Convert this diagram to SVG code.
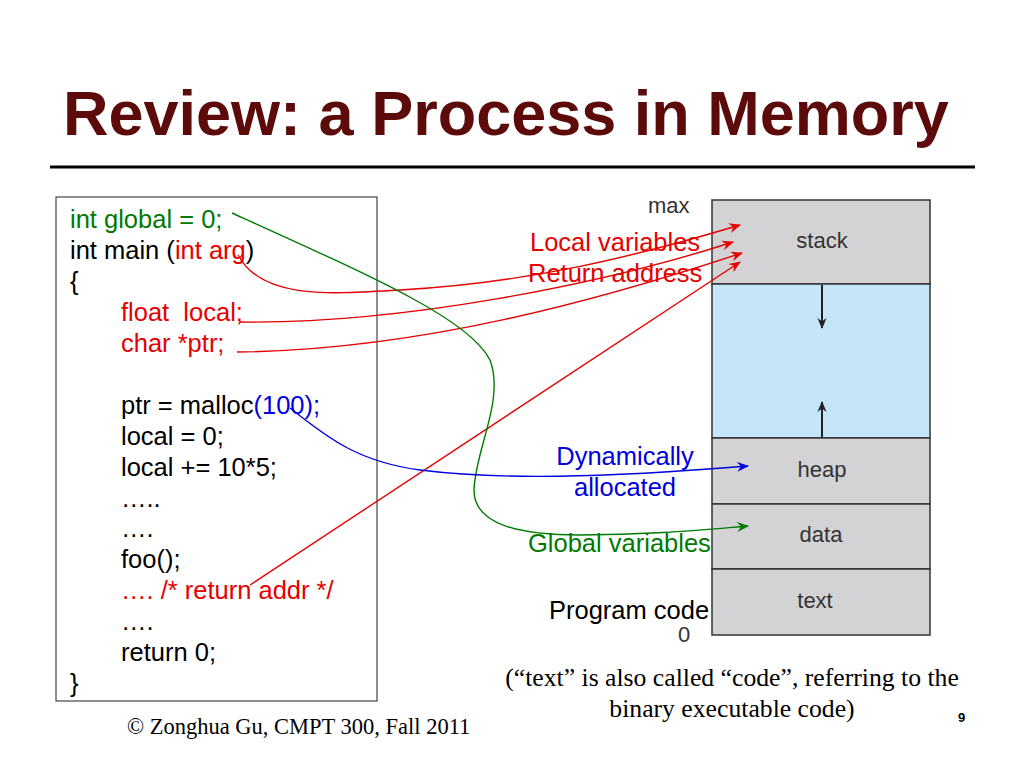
<svg xmlns="http://www.w3.org/2000/svg" width="1024" height="768" viewBox="0 0 1024 768">
<style>
.title{font-family:"Liberation Sans",Arial,sans-serif;font-weight:bold;font-size:63px;fill:#5c0a0a}
.code{font-family:"Liberation Sans",Arial,sans-serif;font-size:25.5px;fill:#000}
.lbl{font-family:"Liberation Sans",Arial,sans-serif;font-size:25.5px}
.mem{font-family:"Liberation Sans",Arial,sans-serif;font-size:22px;fill:#333}
.tnr{font-family:"Liberation Serif","Times New Roman",serif;fill:#000}
.red{fill:#e60000}.grn{fill:#007a00}.blu{fill:#0000dd}
.seg{fill:#d3d3d5;stroke:#333;stroke-width:1.5}
.conn{fill:none;stroke-width:1.4}
</style>
<defs>
<marker id="ar" viewBox="0 0 12 10" refX="11" refY="5" markerWidth="12" markerHeight="10" markerUnits="userSpaceOnUse" orient="auto"><path d="M0,0 L12,5 L0,10 L4,5 Z" fill="#e60000"/></marker>
<marker id="ag" viewBox="0 0 12 10" refX="11" refY="5" markerWidth="12" markerHeight="10" markerUnits="userSpaceOnUse" orient="auto"><path d="M0,0 L12,5 L0,10 L4,5 Z" fill="#007a00"/></marker>
<marker id="ab" viewBox="0 0 12 10" refX="11" refY="5" markerWidth="12" markerHeight="10" markerUnits="userSpaceOnUse" orient="auto"><path d="M0,0 L12,5 L0,10 L4,5 Z" fill="#0000dd"/></marker>
<marker id="ak" viewBox="0 0 12 10" refX="11" refY="5" markerWidth="11" markerHeight="10" markerUnits="userSpaceOnUse" orient="auto"><path d="M0,0 L12,5 L0,10 L4,5 Z" fill="#222"/></marker>
</defs>
<rect width="1024" height="768" fill="#fff"/>
<g id="title">
<text class="title" x="63" y="135">Review: a Process in Memory</text>
<line x1="50" y1="167" x2="975" y2="167" stroke="#000" stroke-width="3"/>
</g>
<g id="code">
<rect x="56" y="197" width="321" height="504" fill="#fff" stroke="#444" stroke-width="1.2"/>
<text class="code grn" x="70" y="228">int global = 0;</text>
<text class="code" x="70" y="259">int main (<tspan class="red">int arg</tspan>)</text>
<text class="code" x="70" y="290">{</text>
<text class="code red" x="121" y="321">float&#160; local;</text>
<text class="code red" x="121" y="352">char *ptr;</text>
<text class="code" x="121" y="414">ptr = malloc<tspan class="blu">(100);</tspan></text>
<text class="code" x="121" y="445">local = 0;</text>
<text class="code" x="121" y="476">local += 10*5;</text>
<text class="code" x="121" y="507">…..</text>
<text class="code" x="121" y="537">….</text>
<text class="code" x="121" y="568">foo();</text>
<text class="code red" x="121" y="599">…. /* return addr */</text>
<text class="code" x="121" y="630">….</text>
<text class="code" x="121" y="661">return 0;</text>
<text class="code" x="70" y="692">}</text>
</g>
<g id="memory">
<rect class="seg" x="712" y="200" width="218" height="84"/>
<rect x="712" y="284" width="218" height="154" fill="#c5e6f8" stroke="#333" stroke-width="1.5"/>
<rect class="seg" x="712" y="438" width="218" height="66"/>
<rect class="seg" x="712" y="504" width="218" height="65"/>
<rect class="seg" x="712" y="569" width="218" height="66"/>
<text class="mem" x="822" y="248" text-anchor="middle">stack</text>
<text class="mem" x="822" y="477" text-anchor="middle">heap</text>
<text class="mem" x="821" y="542" text-anchor="middle">data</text>
<text class="mem" x="815" y="608" text-anchor="middle">text</text>
<line x1="822" y1="285" x2="822" y2="328" stroke="#222" stroke-width="2" marker-end="url(#ak)"/>
<line x1="822" y1="437" x2="822" y2="402" stroke="#222" stroke-width="2" marker-end="url(#ak)"/>
<text class="mem" x="648" y="213">max</text>
<text class="mem" x="678" y="642">0</text>
</g>
<g id="labels">
<text class="lbl red" x="530" y="251">Local variables</text>
<text class="lbl red" x="528" y="282">Return address</text>
<text class="lbl blu" x="625" y="465" text-anchor="middle">Dynamically</text>
<text class="lbl blu" x="625" y="496" text-anchor="middle">allocated</text>
<text class="lbl grn" x="528" y="552">Global variables</text>
<text class="lbl" x="549" y="619" fill="#000">Program code</text>
</g>
<g id="connectors">
<path class="conn" stroke="#e60000" d="M238,255 C262,300 330,294 400,290 C530,283 640,255 740,225" marker-end="url(#ar)"/>
<path class="conn" stroke="#e60000" d="M240,322 C400,324 600,285 733,242" marker-end="url(#ar)"/>
<path class="conn" stroke="#e60000" d="M237,352 C420,350 600,300 742,253" marker-end="url(#ar)"/>
<path class="conn" stroke="#e60000" d="M250,585 L740,262" marker-end="url(#ar)"/>
<path class="conn" stroke="#007a00" d="M232,213 C380,280 470,320 490,360 C505,400 475,450 474,490 C474,525 520,535 580,535 C650,535 700,530 748,526" marker-end="url(#ag)"/>
<path class="conn" stroke="#0000dd" d="M290,408 C330,440 360,462 420,470 C500,480 600,478 748,466" marker-end="url(#ab)"/>
</g>
<g id="caption">
<text class="tnr" x="732" y="686" font-size="25.7" text-anchor="middle">(“text” is also called “code”, referring to the</text>
<text class="tnr" x="732" y="717" font-size="25.7" text-anchor="middle">binary executable code)</text>
<text x="958" y="722" font-family="Liberation Sans,Arial,sans-serif" font-size="13" font-weight="bold">9</text>
<text class="tnr" x="127" y="734" font-size="22.5">© Zonghua Gu, CMPT 300, Fall 2011</text>
</g>
</svg>
